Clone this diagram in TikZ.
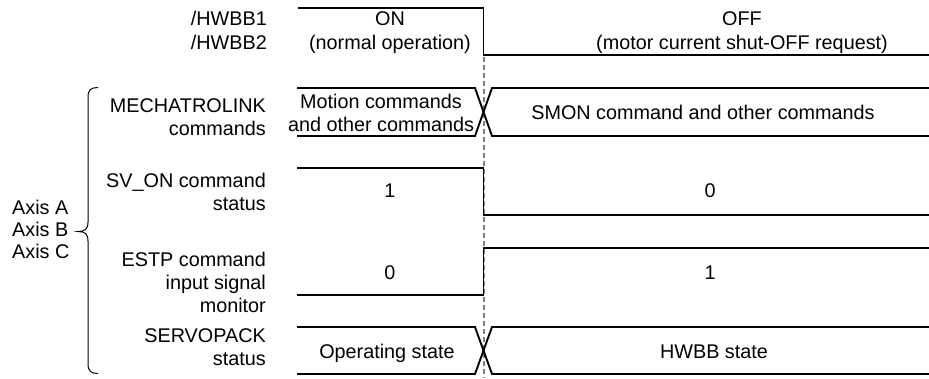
\documentclass[tikz,border=0pt]{standalone}
\usepackage{fontspec}
\setmainfont{Liberation Sans}
\begin{document}
\begin{tikzpicture}[x=1pt,y=-1pt,
  sig/.style={line width=1.9pt, line join=miter},
  guide/.style={gray, line width=1.1pt, dash pattern=on 5pt off 3pt},
  brace/.style={line width=1pt},
  lbl/.style={inner sep=0pt, anchor=base east, font=\fontsize{19.8}{23}\selectfont},
  txt/.style={inner sep=0pt, anchor=base, font=\fontsize{19.8}{23}\selectfont},
  axl/.style={inner sep=0pt, anchor=base west, font=\fontsize{19.8}{23}\selectfont}]
\useasboundingbox (0,0) rectangle (929,378);

% guide line (drawn first, signals on top)
\draw[guide] (484,57) -- (484,378);

% /HWBB signal
\draw[sig] (298,8) -- (483.5,8) -- (483.5,55) -- (929,55);
% MECHATROLINK commands (bus)
\draw[sig] (297,88) -- (475,88) -- (492,136) -- (929,136);
\draw[sig] (297,136) -- (475,136) -- (492,88) -- (929,88);
% SV_ON command status
\draw[sig] (297,168) -- (483.5,168) -- (483.5,215) -- (929,215);
% ESTP command input signal monitor
\draw[sig] (297,295) -- (483.5,295) -- (483.5,248) -- (929,248);
% SERVOPACK status (bus)
\draw[sig] (297,327) -- (475,327) -- (492,374) -- (929,374);
\draw[sig] (297,374) -- (475,374) -- (492,327) -- (929,327);

% brace
\draw[brace] (98,87.5) .. controls (91,87.5) and (88,90) .. (88,97) -- (88,222)
  .. controls (88,229) and (85,231.5) .. (78,231.5)
  .. controls (85,231.5) and (88,234) .. (88,241) -- (88,364)
  .. controls (88,371) and (91,373.5) .. (98,373.5);

% left labels
\node[lbl] (h1) at (267,25) {/HWBB1};
\node[lbl] (h2) at (267,49) {/HWBB2};
\node[lbl] (m1) at (266,112) {MECHATROLINK};
\node[lbl] (m2) at (266,135) {commands};
\node[lbl] (s1) at (266,187) {SV\_ON command};
\node[lbl] (s2) at (266,210) {status};
\node[lbl] (e1) at (266,266) {ESTP command};
\node[lbl] (e2) at (266,289) {input signal};
\node[lbl] (e3) at (266,312) {monitor};
\node[lbl] (p1) at (266,342) {SERVOPACK};
\node[lbl] (p2) at (266,365) {status};
\node[axl] (aa) at (12,214) {Axis A};
\node[axl] (ab) at (12,236) {Axis B};
\node[axl] (ac) at (12,258) {Axis C};

% values
\node[txt] (on1) at (390,25) {ON};
\node[txt] (on2) at (390,49) {(normal operation)};
\node[txt] (off1) at (742,25) {OFF};
\node[txt] (off2) at (742,49) {(motor current shut-OFF request)};
\node[txt] (mc1) at (381,108) {Motion commands};
\node[txt] (mc2) at (381,131) {and other commands};
\node[txt] (smon) at (703,119) {SMON command and other commands};
\node[txt] (sv1) at (390,197) {1};
\node[txt] (sv0) at (710,197) {0};
\node[txt] (es0) at (390,279) {0};
\node[txt] (es1) at (710,279) {1};
\node[txt] (op) at (387,358) {Operating state};
\node[txt] (hw) at (714,358) {HWBB state};
\end{tikzpicture}
\end{document}
